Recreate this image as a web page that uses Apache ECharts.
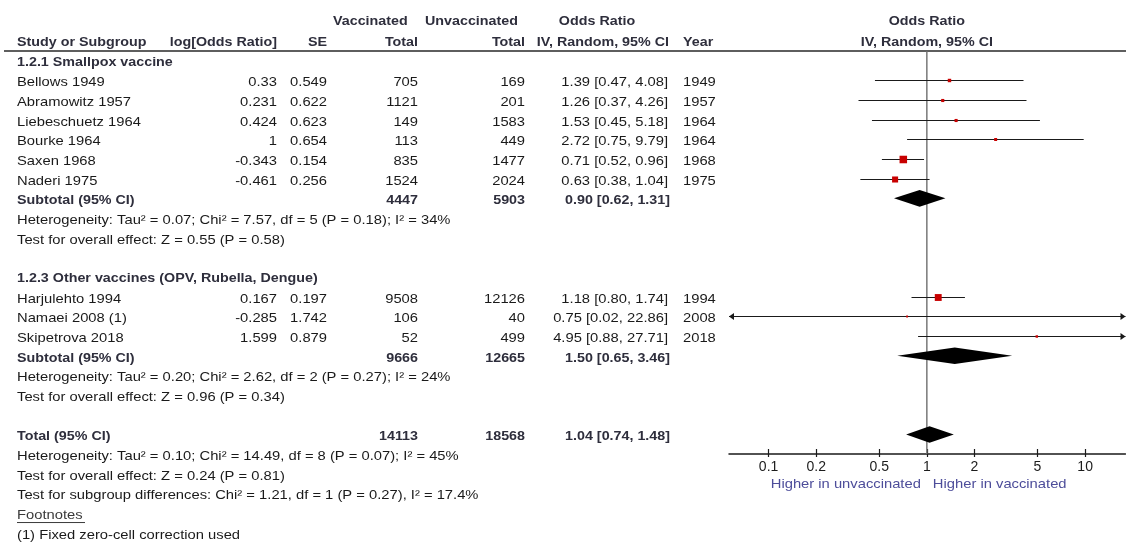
<!DOCTYPE html>
<html>
<head>
<meta charset="utf-8">
<script src="https://cdn.jsdelivr.net/npm/echarts@6/dist/echarts.min.js"></script>
<style>
  html, body { margin: 0; padding: 0; background: #ffffff; }
  #chart { width: 1126px; height: 544px; }
</style>
</head>
<body>
<div id="chart"></div>
<script>
// ---- Study-level data ----
const studies = ['Bellows 1949', 'Abramowitz 1957', 'Liebeschuetz 1964', 'Bourke 1964', 'Saxen 1968', 'Naderi 1975',
                 'Harjulehto 1994', 'Namaei 2008 (1)', 'Skipetrova 2018'];
const logOddsRatio = [0.33, 0.231, 0.424, 1, -0.343, -0.461, 0.167, -0.285, 1.599];
const standardError = [0.549, 0.622, 0.623, 0.654, 0.154, 0.256, 0.197, 1.742, 0.879];
const vaccinatedTotal = [705, 1121, 149, 113, 835, 1524, 9508, 106, 52];
const unvaccinatedTotal = [169, 201, 1583, 449, 1477, 2024, 12126, 40, 499];
const oddsRatio = [1.39, 1.26, 1.53, 2.72, 0.71, 0.63, 1.18, 0.75, 4.95];
const ciLower = [0.47, 0.37, 0.45, 0.75, 0.52, 0.38, 0.80, 0.02, 0.88];
const ciUpper = [4.08, 4.26, 5.18, 9.79, 0.96, 1.04, 1.74, 22.86, 27.71];
const years = [1949, 1957, 1964, 1964, 1968, 1975, 1994, 2008, 2018];
const weightPct = [8.0, 6.6, 6.6, 6.0, 25.8, 19.3, 23.0, 1.0, 3.7];
const studyRow = [1, 2, 3, 4, 5, 6, 12, 13, 14];

// ---- Pooled estimates ----
const summaryLabels = ['Subtotal (95% CI)', 'Subtotal (95% CI)', 'Total (95% CI)'];
const summaryVaccinated = [4447, 9666, 14113];
const summaryUnvaccinated = [5903, 12665, 18568];
const summaryOR = [0.90, 1.50, 1.04];
const summaryLower = [0.62, 0.65, 0.74];
const summaryUpper = [1.31, 3.46, 1.48];
const summaryRow = [7, 15, 19];

// ---- Subgroup headings and statistics ----
const groupHeadings = ['1.2.1 Smallpox vaccine', '1.2.3 Other vaccines (OPV, Rubella, Dengue)'];
const groupHeadingRow = [0, 11];
const statLines = [
  'Heterogeneity: Tau² = 0.07; Chi² = 7.57, df = 5 (P = 0.18); I² = 34%',
  'Test for overall effect: Z = 0.55 (P = 0.58)',
  'Heterogeneity: Tau² = 0.20; Chi² = 2.62, df = 2 (P = 0.27); I² = 24%',
  'Test for overall effect: Z = 0.96 (P = 0.34)',
  'Heterogeneity: Tau² = 0.10; Chi² = 14.49, df = 8 (P = 0.07); I² = 45%',
  'Test for overall effect: Z = 0.24 (P = 0.81)',
  'Test for subgroup differences: Chi² = 1.21, df = 1 (P = 0.27), I² = 17.4%'
];
const statRow = [8, 9, 16, 17, 20, 21, 22];
const footnoteTitle = 'Footnotes';
const footnotes = ['(1) Fixed zero-cell correction used'];

// ---- Axis ----
const tickValues = [0.1, 0.2, 0.5, 1, 2, 5, 10];
const tickLabels = ['0.1', '0.2', '0.5', '1', '2', '5', '10'];
const leftLabel = 'Higher in unvaccinated';
const rightLabel = 'Higher in vaccinated';

// ---------------------------------------------------------------
const LX_MIN = -1.25, LX_MAX = 1.255;
const ROW_MIN = -0.489, ROW_MAX = 19.99;
const log10 = Math.log10;

const REG = "13px 'Liberation Sans', Arial, sans-serif";
const BOLD = "bold 13px 'Liberation Sans', Arial, sans-serif";
const TXT = '#1a1a1a';
const HEAD = '#2e2e3c';

const chart = echarts.init(document.getElementById('chart'), null, { renderer: 'canvas' });

const studyData = studies.map((s, i) => [log10(oddsRatio[i]), studyRow[i], log10(ciLower[i]), log10(ciUpper[i]), weightPct[i]]);
const summaryData = summaryOR.map((v, i) => [log10(v), summaryRow[i], log10(summaryLower[i]), log10(summaryUpper[i])]);
const tickLogs = tickValues.map(log10);

function labelFor(v) {
  for (let i = 0; i < tickLogs.length; i++) if (Math.abs(tickLogs[i] - v) < 1e-6) return tickLabels[i];
  return '';
}

// confidence interval line, arrowheads when it runs off the axis, and the weighted square
function renderStudy(params, api) {
  const est = api.value(0), row = api.value(1), lo = api.value(2), hi = api.value(3), w = api.value(4);
  const cLo = Math.max(lo, LX_MIN), cHi = Math.min(hi, LX_MAX);
  const pLo = api.coord([cLo, row]);
  const pHi = api.coord([cHi, row]);
  const pEst = api.coord([est, row]);
  const y = Math.round(pLo[1]) + 0.5;
  const children = [{
    type: 'line',
    shape: { x1: pLo[0], y1: y, x2: pHi[0], y2: y },
    style: { stroke: '#1a1a1a', lineWidth: 1.2 }
  }];
  const aLen = 5, aHalf = 3.5;
  if (lo < LX_MIN) {
    children.push({ type: 'polygon', shape: { points: [[pLo[0], y], [pLo[0] + aLen, y - aHalf], [pLo[0] + aLen, y + aHalf]] },
      style: { fill: '#1a1a1a' } });
  }
  if (hi > LX_MAX) {
    children.push({ type: 'polygon', shape: { points: [[pHi[0], y], [pHi[0] - aLen, y - aHalf], [pHi[0] - aLen, y + aHalf]] },
      style: { fill: '#1a1a1a' } });
  }
  const side = 1.6 + 0.23 * w;
  children.push({
    type: 'rect',
    shape: { x: pEst[0] - side / 2, y: y - side / 2, width: side, height: side },
    style: { fill: '#c80000' }
  });
  return { type: 'group', children };
}

// pooled estimate diamond
function renderDiamond(params, api) {
  const est = api.value(0), row = api.value(1), lo = api.value(2), hi = api.value(3);
  const pLo = api.coord([lo, row]), pHi = api.coord([hi, row]), pEst = api.coord([est, row]);
  const h = 8.3, y = pEst[1];
  return {
    type: 'polygon',
    shape: { points: [[pLo[0], y], [pEst[0], y - h], [pHi[0], y], [pEst[0], y + h]] },
    style: { fill: '#000000' }
  };
}

const option = {
  backgroundColor: '#ffffff',
  animation: false,
  grid: { left: 729, width: 396.5, top: 51, height: 403, containLabel: false },
  xAxis: [{
    type: 'value', min: LX_MIN, max: LX_MAX, position: 'bottom',
    axisLine: { show: true, onZero: false, lineStyle: { color: '#1a1a1a', width: 1.5 } },
    axisTick: { show: true, inside: true, length: 5, customValues: tickLogs, lineStyle: { color: '#1a1a1a', width: 1.2 } },
    axisLabel: { show: true, customValues: tickLogs, margin: 6, formatter: v => labelFor(v),
      fontFamily: "'Liberation Sans', Arial, sans-serif", fontSize: 14, color: '#1c1c1c' },
    splitLine: { show: false }
  }, {
    type: 'value', min: LX_MIN, max: LX_MAX, position: 'bottom',
    axisLine: { show: false, onZero: false },
    axisTick: { show: true, inside: false, length: 3, customValues: tickLogs, lineStyle: { color: '#1a1a1a', width: 1.2 } },
    axisLabel: { show: false },
    splitLine: { show: false }
  }],
  yAxis: {
    type: 'value', min: ROW_MIN, max: ROW_MAX, inverse: true, show: false,
    axisLine: { show: false }, axisTick: { show: false }, axisLabel: { show: false }, splitLine: { show: false }
  },
  series: [{
    type: 'line',
    data: [[0, ROW_MIN], [0, ROW_MAX]],
    symbol: 'none', silent: true,
    lineStyle: { color: '#6e6e6e', width: 1.4 },
    z: 1
  }, {
    type: 'custom', renderItem: renderStudy, data: studyData, clip: false, z: 3, silent: true
  }, {
    type: 'custom', renderItem: renderDiamond, data: summaryData, clip: false, z: 3, silent: true
  }]
};

chart.setOption(option);

// ---- Table text, placed on the same row scale as the plot ----
const TEXT_DY = 2.3;
const rowY = r => chart.convertToPixel({ yAxisIndex: 0 }, r) + TEXT_DY;
const xAt = v => chart.convertToPixel({ xAxisIndex: 0 }, v);

function txt(x, y, s, bold, align, color) {
  return {
    type: 'text', x: x, y: y, scaleX: bold ? 1.1 : 1.135, silent: true,
    style: {
      text: s, font: bold ? BOLD : REG, fill: color || (bold ? HEAD : TXT),
      align: align || 'left', textAlign: align || 'left',
      verticalAlign: 'middle', textVerticalAlign: 'middle'
    }
  };
}

const COL = { name: 17, logOR: 277, se: 327, vacc: 418, unvacc: 525, or: 668, year: 683 };
const fmtCI = (v, l, h) => v.toFixed(2) + ' [' + l.toFixed(2) + ', ' + h.toFixed(2) + ']';

const g = [];
// column headers
g.push(txt(333, 21.5, 'Vaccinated', true));
g.push(txt(425, 21.5, 'Unvaccinated', true));
g.push(txt(597, 21.5, 'Odds Ratio', true, 'center'));
g.push(txt(COL.name, 42, 'Study or Subgroup', true));
g.push(txt(COL.logOR, 42, 'log[Odds Ratio]', true, 'right'));
g.push(txt(COL.se, 42, 'SE', true, 'right'));
g.push(txt(COL.vacc, 42, 'Total', true, 'right'));
g.push(txt(COL.unvacc, 42, 'Total', true, 'right'));
g.push(txt(669, 42, 'IV, Random, 95% CI', true, 'right'));
g.push(txt(COL.year, 42, 'Year', true));
const oneX = xAt(0);
g.push(txt(oneX, 21.5, 'Odds Ratio', true, 'center'));
g.push(txt(oneX, 42, 'IV, Random, 95% CI', true, 'center'));
g.push({ type: 'line', silent: true, shape: { x1: 4, y1: 51, x2: 1126, y2: 51 }, style: { stroke: '#5e5e5e', lineWidth: 2 } });

groupHeadings.forEach((s, i) => g.push(txt(COL.name, rowY(groupHeadingRow[i]) - 1, s, true)));

studies.forEach((s, i) => {
  const y = rowY(studyRow[i]);
  g.push(txt(COL.name, y, s, false));
  g.push(txt(COL.logOR, y, String(logOddsRatio[i]), false, 'right'));
  g.push(txt(COL.se, y, String(standardError[i]), false, 'right'));
  g.push(txt(COL.vacc, y, String(vaccinatedTotal[i]), false, 'right'));
  g.push(txt(COL.unvacc, y, String(unvaccinatedTotal[i]), false, 'right'));
  g.push(txt(COL.or, y, fmtCI(oddsRatio[i], ciLower[i], ciUpper[i]), false, 'right'));
  g.push(txt(COL.year, y, String(years[i]), false));
});

summaryLabels.forEach((s, i) => {
  const y = rowY(summaryRow[i]);
  g.push(txt(COL.name, y, s, true));
  g.push(txt(COL.vacc, y, String(summaryVaccinated[i]), true, 'right'));
  g.push(txt(COL.unvacc, y, String(summaryUnvaccinated[i]), true, 'right'));
  g.push(txt(670, y, fmtCI(summaryOR[i], summaryLower[i], summaryUpper[i]), true, 'right'));
});

statLines.forEach((s, i) => g.push(txt(COL.name, rowY(statRow[i]), s, false)));

const fy = rowY(23);
g.push(txt(COL.name, fy, footnoteTitle, false, 'left', '#3a3a3a'));
g.push({ type: 'line', silent: true, shape: { x1: COL.name, y1: fy + 7, x2: COL.name + 68, y2: fy + 7 }, style: { stroke: '#3a3a3a', lineWidth: 1 } });
footnotes.forEach((s, i) => g.push(txt(COL.name, rowY(24 + i), s, false)));

// direction labels under the axis
g.push(txt(oneX - 6, 484, leftLabel, false, 'right', '#4d4d9a'));
g.push(txt(oneX + 6, 484, rightLabel, false, 'left', '#4d4d9a'));

chart.setOption({ graphic: { elements: g } });
</script>
</body>
</html>
